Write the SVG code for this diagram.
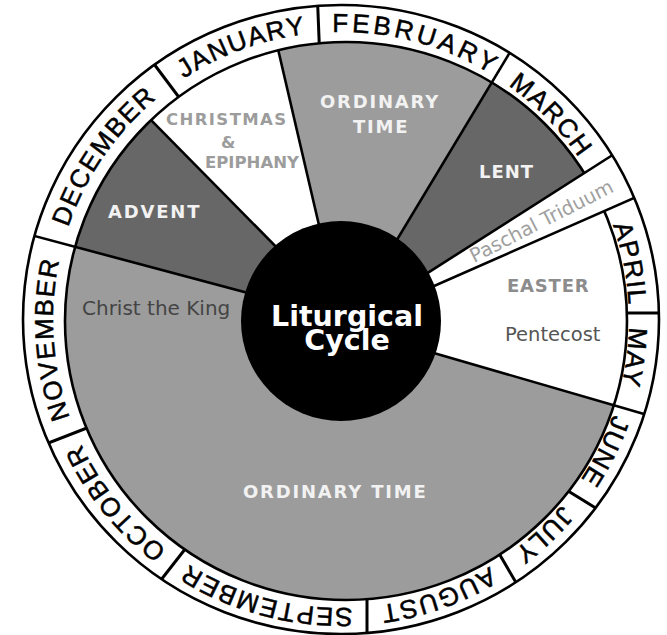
<svg xmlns="http://www.w3.org/2000/svg" width="667" height="635" viewBox="0 0 667 635">
<style>
.lbl{font-family:"DejaVu Sans",Verdana,sans-serif;font-weight:bold;font-size:18px;letter-spacing:1.8px}
.reg{font-family:"DejaVu Sans",Verdana,sans-serif;font-size:19.5px}
.wt{fill:#f2f2f2}
.gt{fill:#9c9c9c}
.mo{font-family:"Liberation Sans",Arial,sans-serif;font-size:26px;fill:#000;stroke:#000;stroke-width:0.5;letter-spacing:1.5px}
.ln{stroke:#000;stroke-width:2.6;fill:none}
.md{stroke:#000;stroke-width:3;fill:none}
</style>
<defs>
<clipPath id="outerClip"><ellipse cx="341" cy="319.5" rx="318" ry="314.5"/></clipPath>
<clipPath id="innerClip"><ellipse cx="346" cy="321" rx="281" ry="279"/></clipPath>
<clipPath id="ringClip"><path clip-rule="evenodd" d="M23,319.5 a318,314.5 0 1,0 636,0 a318,314.5 0 1,0 -636,0 Z M65,321 a281,279 0 1,0 562,0 a281,279 0 1,0 -562,0 Z"/></clipPath>
<path id="mpath" d="M629,320 A288,288 0 1,1 53,320 A288,288 0 1,1 629,320"/>
</defs>

<g id="month-ring">
<ellipse cx="341" cy="319.5" rx="318" ry="314.5" fill="#fff"/>
</g>

<g id="ordinary-time">
<ellipse cx="346" cy="321" rx="281" ry="279" fill="#9c9c9c"/>
</g>

<g id="advent"><polygon clip-path="url(#innerClip)" points="270,299 30,235 120,88 290,261" fill="#676767"/></g>
<g id="christmas"><polygon clip-path="url(#innerClip)" points="290,261 120,88 268,5 325,251" fill="#fff"/></g>
<g id="lent"><polygon clip-path="url(#innerClip)" points="385,259.6 530,19 640,137.5 400,290.6" fill="#676767"/></g>
<g id="easter"><polygon clip-path="url(#innerClip)" points="400,301 660,186.5 660,418.6 420,349" fill="#fff"/></g>

<g id="inner-edge"><ellipse cx="346" cy="321" rx="281" ry="279" class="ln"/></g>

<g id="paschal-triduum"><polygon clip-path="url(#outerClip)" points="400,290.6 640,137.5 660,186.5 400,301" fill="#fff"/></g>

<g id="connectors">
<g clip-path="url(#ringClip)" class="md">
<line x1="317.5" y1="0" x2="319.5" y2="50"/>
<line x1="145" y1="52" x2="190" y2="112"/>
<line x1="15" y1="456" x2="110" y2="419"/>
<line x1="150" y1="594" x2="200" y2="530"/>
<line x1="367" y1="590" x2="367" y2="640"/>
<line x1="490" y1="538" x2="525" y2="598"/>
<line x1="560" y1="486" x2="620" y2="523"/>
<line x1="610" y1="313" x2="667" y2="313"/>
</g>
<g clip-path="url(#innerClip)" class="ln">
<line x1="290" y1="261" x2="140" y2="108.8"/>
<line x1="325" y1="251" x2="273.8" y2="31"/>
</g>
<g clip-path="url(#outerClip)" class="ln">
<line x1="270" y1="298.9" x2="20" y2="232.1"/>
<line x1="385" y1="259.6" x2="530" y2="19"/>
<line x1="400" y1="290.6" x2="640" y2="137.5"/>
<line x1="400" y1="301" x2="660" y2="186.5"/>
<line x1="420" y1="349" x2="660" y2="418.6"/>
</g>
</g>

<g id="outer-edge"><ellipse cx="341" cy="319.5" rx="318" ry="314.5" class="ln" stroke-width="3.2"/></g>

<g id="center">
<circle cx="341" cy="321" r="100" fill="#000"/>
<text x="347" y="326" text-anchor="middle" font-family="DejaVu Sans,Verdana,sans-serif" font-weight="bold" font-size="28.5" fill="#fff">Liturgical</text>
<text x="347" y="350" text-anchor="middle" font-family="DejaVu Sans,Verdana,sans-serif" font-weight="bold" font-size="28.5" fill="#fff">Cycle</text>
</g>

<g id="labels">
<text class="lbl wt" x="320" y="108">ORDINARY</text>
<text class="lbl wt" x="353" y="133">TIME</text>
<text class="lbl gt" x="166" y="125" style="font-size:16.5px;letter-spacing:1.4px">CHRISTMAS</text>
<text class="lbl gt" x="221" y="148" style="font-size:16.5px;letter-spacing:0">&amp;</text>
<text class="lbl gt" x="205" y="168" style="font-size:16.5px;letter-spacing:0">EPIPHANY</text>
<text class="lbl wt" x="108" y="218">ADVENT</text>
<text class="lbl wt" x="479" y="178" style="letter-spacing:1px">LENT</text>
<text class="lbl" x="507" y="292" fill="#8c8c8c" style="letter-spacing:0.8px">EASTER</text>
<text class="reg" x="505" y="341" fill="#555">Pentecost</text>
<text class="reg" x="82" y="315" fill="#444" style="font-size:20px">Christ the King</text>
<text class="lbl wt" x="243" y="498">ORDINARY TIME</text>
<text class="reg" x="0" y="0" fill="#a0a0a0" font-size="18" transform="translate(474,263) rotate(-27)">Paschal Triduum</text>
</g>

<g id="months" class="mo">
<text id="m-jan"><textPath href="#mpath" startOffset="69.44%" text-anchor="middle">JANUARY</textPath></text>
<text id="m-feb" style="letter-spacing:3.5px"><textPath href="#mpath" startOffset="79.2%" text-anchor="middle">FEBRUARY</textPath></text>
<text id="m-mar"><textPath href="#mpath" startOffset="87.69%" text-anchor="middle">MARCH</textPath></text>
<text id="m-apr"><textPath href="#mpath" startOffset="96.94%" text-anchor="middle">APRIL</textPath></text>
<text id="m-may"><textPath href="#mpath" startOffset="2.03%" text-anchor="middle">MAY</textPath></text>
<text id="m-jun"><textPath href="#mpath" startOffset="7.36%" text-anchor="middle">JUNE</textPath></text>
<text id="m-jul"><textPath href="#mpath" startOffset="12.97%" text-anchor="middle">JULY</textPath></text>
<text id="m-aug"><textPath href="#mpath" startOffset="19.61%" text-anchor="middle">AUGUST</textPath></text>
<text id="m-sep"><textPath href="#mpath" startOffset="29.17%" text-anchor="middle">SEPTEMBER</textPath></text>
<text id="m-oct"><textPath href="#mpath" startOffset="39.17%" text-anchor="middle">OCTOBER</textPath></text>
<text id="m-nov"><textPath href="#mpath" startOffset="48.94%" text-anchor="middle">NOVEMBER</textPath></text>
<text id="m-dec"><textPath href="#mpath" startOffset="59.61%" text-anchor="middle">DECEMBER</textPath></text>
</g>
</svg>
